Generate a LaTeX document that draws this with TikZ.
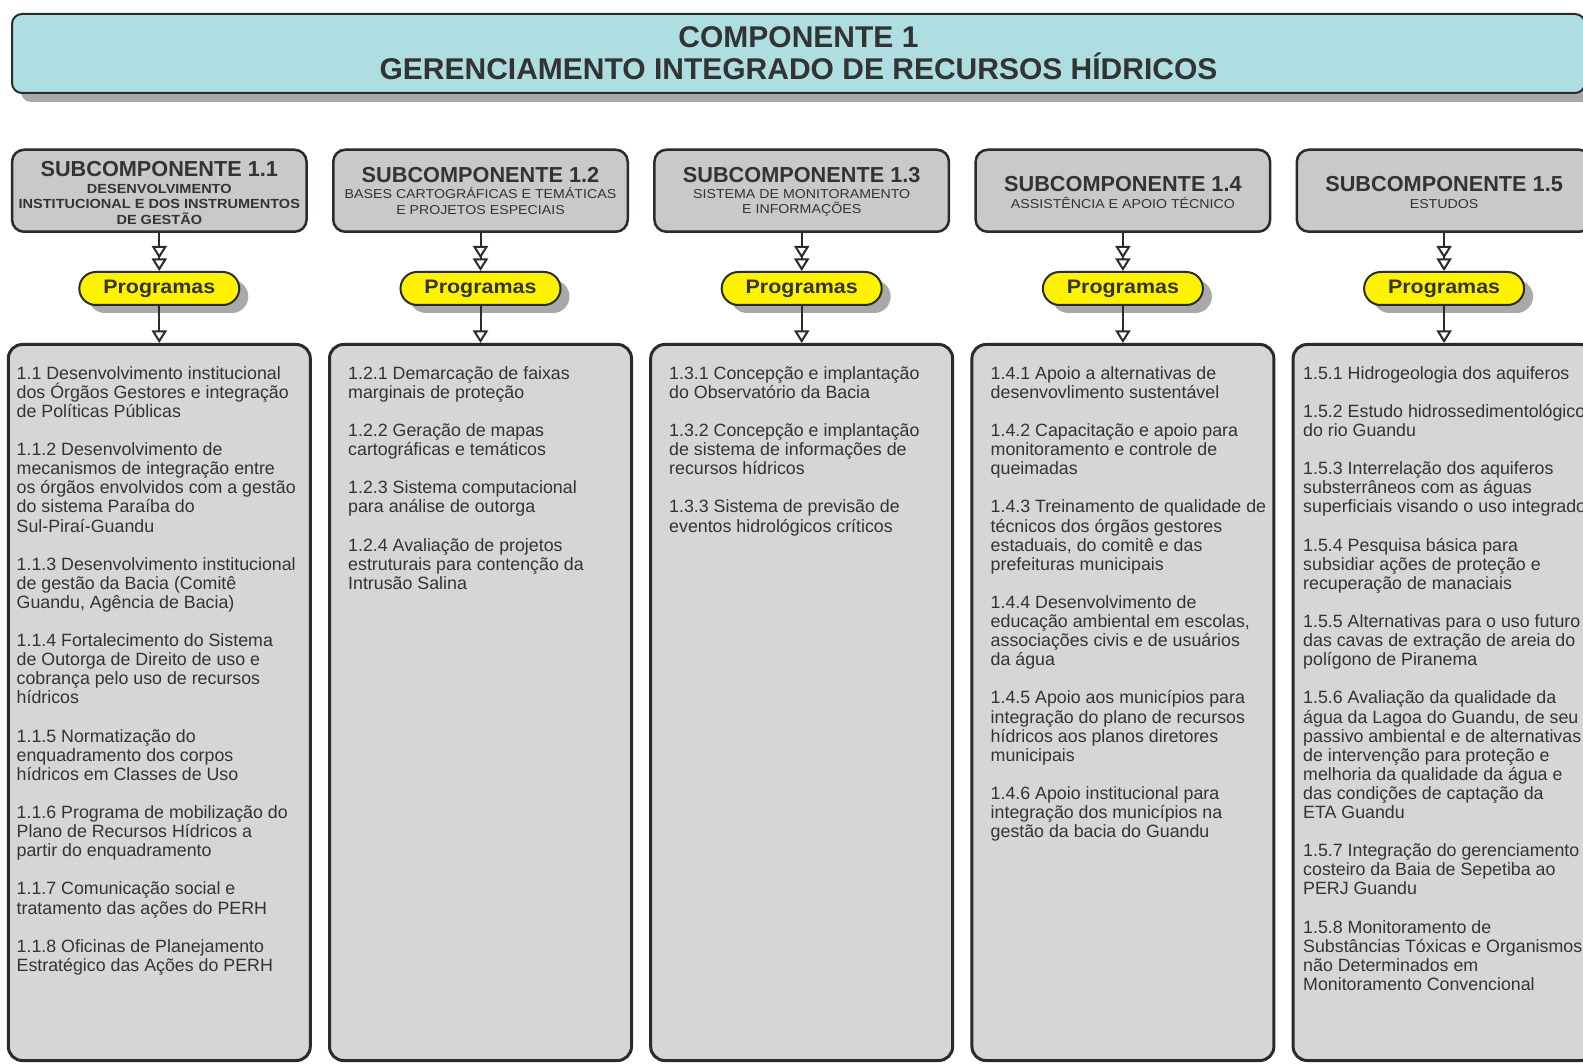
\documentclass[tikz,border=0pt]{standalone}
\usepackage{fontspec}
\setmainfont{Liberation Sans}
\newfontfamily\widefont[FakeStretch=1.1]{Liberation Sans}
\usetikzlibrary{arrows.meta,shapes.misc,shadows}
\definecolor{bannerfill}{HTML}{AEDDE2}
\definecolor{subfill}{HTML}{C8C9CB}
\definecolor{progfill}{HTML}{D5D6D8}
\definecolor{yel}{HTML}{FFF200}
\definecolor{shad}{HTML}{A9A9A9}
\definecolor{ink}{HTML}{333333}
\definecolor{edge}{HTML}{2B2B2B}
\lineskiplimit=-1000pt
\newcommand\pgap{\\[19.1pt]}
\begin{document}
\begin{tikzpicture}[x=1pt,y=-1pt,
  every node/.style={text=ink},
  bannerbox/.style={draw=edge,line width=2pt,fill=bannerfill,rounded corners=10pt,
    minimum width=1573pt,minimum height=79pt,inner sep=0pt,align=center,
    font=\bfseries\fontsize{30}{32.2}\selectfont,
    drop shadow={shadow xshift=9pt,shadow yshift=-9pt,fill=shad,opacity=1}},
  subbox/.style={draw=edge,line width=2.5pt,fill=subfill,rounded corners=12pt,
    minimum width=294.5pt,minimum height=82pt,inner sep=0pt},
  subhead/.style={anchor=base,inner sep=0pt,font=\bfseries\fontsize{21.7}{24}\selectfont},
  subsub/.style={anchor=north,inner sep=0pt,align=center,font=\widefont\fontsize{12.9}{15.8}\selectfont},
  subsubb/.style={anchor=north,inner sep=0pt,align=center,font=\widefont\bfseries\fontsize{13.2}{15.5}\selectfont},
  pill/.style={draw=edge,line width=2pt,fill=yel,rounded rectangle,
    minimum width=160pt,minimum height=33pt,inner sep=0pt,
    font=\widefont\bfseries\fontsize{19.5}{22}\selectfont,
    drop shadow={shadow xshift=9pt,shadow yshift=-8pt,fill=shad,opacity=1}},
  progbox/.style={draw=edge,line width=3pt,fill=progfill,rounded corners=14pt,
    minimum width=302pt,minimum height=716pt,inner sep=0pt},
  progtext/.style={anchor=north west,inner sep=0pt,align=left,
    font=\fontsize{17.8}{19.1}\selectfont},
  conn/.style={draw=edge,line width=2pt},
  tri/.tip={Triangle[open,length=12.5pt,width=15pt,fill=white]},
  dbl/.style={-{tri[]tri[]}},
  sgl/.style={-{tri[]}}
]
\useasboundingbox[fill=white] (0,0) rectangle (1583,1064);

% banner
\node[bannerbox] (banner) at (798.5,53.5) {COMPONENTE 1\\GERENCIAMENTO INTEGRADO DE RECURSOS HÍDRICOS};

% subcomponent boxes
\node[subbox] (s1) at (159.3,190.75) {};
\node[subbox] (s2) at (480.5,190.75) {};
\node[subbox] (s3) at (801.7,190.75) {};
\node[subbox] (s4) at (1122.9,190.75) {};
\node[subbox] (s5) at (1444.1,190.75) {};

\node[subhead] (s1a) at (159.3,176.5) {SUBCOMPONENTE 1.1};
\node[subsubb] (s1b) at (159.3,182) {\rule{0pt}{11pt}DESENVOLVIMENTO\\INSTITUCIONAL E DOS INSTRUMENTOS\\DE GESTÃO};
\node[subhead] (s2a) at (480.5,182.5) {SUBCOMPONENTE 1.2};
\node[subsub] (s2b) at (480.5,187) {\rule{0pt}{11pt}BASES CARTOGRÁFICAS E TEMÁTICAS\\E PROJETOS ESPECIAIS};
\node[subhead] (s3a) at (801.7,182.5) {SUBCOMPONENTE 1.3};
\node[subsub] (s3b) at (801.7,187) {\rule{0pt}{11pt}SISTEMA DE MONITORAMENTO\\E INFORMAÇÕES};
\node[subhead] (s4a) at (1122.9,191.5) {SUBCOMPONENTE 1.4};
\node[subsub] (s4b) at (1122.9,197.3) {\rule{0pt}{11pt}ASSISTÊNCIA E APOIO TÉCNICO};
\node[subhead] (s5a) at (1444.1,191.5) {SUBCOMPONENTE 1.5};
\node[subsub] (s5b) at (1444.1,197.3) {\rule{0pt}{11pt}ESTUDOS};

% Programas pills
\node[pill] (g1) at (159.3,288.5) {Programas};
\node[pill] (g2) at (480.5,288.5) {Programas};
\node[pill] (g3) at (801.7,288.5) {Programas};
\node[pill] (g4) at (1122.9,288.5) {Programas};
\node[pill] (g5) at (1444.1,288.5) {Programas};

% program boxes
\node[progbox] (p1) at (159.3,702.5) {};
\node[progbox] (p2) at (480.5,702.5) {};
\node[progbox] (p3) at (801.7,702.5) {};
\node[progbox] (p4) at (1122.9,702.5) {};
\node[progbox] (p5) at (1444.1,702.5) {};

% connectors
\foreach \i in {1,...,5}{
  \draw[conn,dbl] (s\i.south) -- (g\i.north);
  \draw[conn,sgl] (g\i.south) -- (p\i.north);
}

% program texts
\node[progtext] (t1) at (16.5,365) {\rule{0pt}{14pt}1.1 Desenvolvimento institucional\\dos Órgãos Gestores e integração\\de Políticas Públicas\pgap
1.1.2 Desenvolvimento de\\mecanismos de integração entre\\os órgãos envolvidos com a gestão\\do sistema Paraíba do\\Sul-Piraí-Guandu\pgap
1.1.3 Desenvolvimento institucional\\de gestão da Bacia (Comitê\\Guandu, Agência de Bacia)\pgap
1.1.4 Fortalecimento do Sistema\\de Outorga de Direito de uso e\\cobrança pelo uso de recursos\\hídricos\pgap
1.1.5 Normatização do\\enquadramento dos corpos\\hídricos em Classes de Uso\pgap
1.1.6 Programa de mobilização do\\Plano de Recursos Hídricos a\\partir do enquadramento\pgap
1.1.7 Comunicação social e\\tratamento das ações do PERH\pgap
1.1.8 Oficinas de Planejamento\\Estratégico das Ações do PERH};

\node[progtext] (t2) at (348,365) {\rule{0pt}{14pt}1.2.1 Demarcação de faixas\\marginais de proteção\pgap
1.2.2 Geração de mapas\\cartográficas e temáticos\pgap
1.2.3 Sistema computacional\\para análise de outorga\pgap
1.2.4 Avaliação de projetos\\estruturais para contenção da\\Intrusão Salina};

\node[progtext] (t3) at (669,365) {\rule{0pt}{14pt}1.3.1 Concepção e implantação\\do Observatório da Bacia\pgap
1.3.2 Concepção e implantação\\de sistema de informações de\\recursos hídricos\pgap
1.3.3 Sistema de previsão de\\eventos hidrológicos críticos};

\node[progtext] (t4) at (990.5,365) {\rule{0pt}{14pt}1.4.1 Apoio a alternativas de\\desenvovlimento sustentável\pgap
1.4.2 Capacitação e apoio para\\monitoramento e controle de\\queimadas\pgap
1.4.3 Treinamento de qualidade de\\técnicos dos órgãos gestores\\estaduais, do comitê e das\\prefeituras municipais\pgap
1.4.4 Desenvolvimento de\\educação ambiental em escolas,\\associações civis e de usuários\\da água\pgap
1.4.5 Apoio aos municípios para\\integração do plano de recursos\\hídricos aos planos diretores\\municipais\pgap
1.4.6 Apoio institucional para\\integração dos municípios na\\gestão da bacia do Guandu};

\node[progtext] (t5) at (1303,365) {\rule{0pt}{14pt}1.5.1 Hidrogeologia dos aquiferos\pgap
1.5.2 Estudo hidrossedimentológico\\do rio Guandu\pgap
1.5.3 Interrelação dos aquiferos\\substerrâneos com as águas\\superficiais visando o uso integrado\pgap
1.5.4 Pesquisa básica para\\subsidiar ações de proteção e\\recuperação de manaciais\pgap
1.5.5 Alternativas para o uso futuro\\das cavas de extração de areia do\\polígono de Piranema\pgap
1.5.6 Avaliação da qualidade da\\água da Lagoa do Guandu, de seu\\passivo ambiental e de alternativas\\de intervenção para proteção e\\melhoria da qualidade da água e\\das condições de captação da\\ETA Guandu\pgap
1.5.7 Integração do gerenciamento\\costeiro da Baia de Sepetiba ao\\PERJ Guandu\pgap
1.5.8 Monitoramento de\\Substâncias Tóxicas e Organismos\\não Determinados em\\Monitoramento Convencional};
\end{tikzpicture}
\end{document}
